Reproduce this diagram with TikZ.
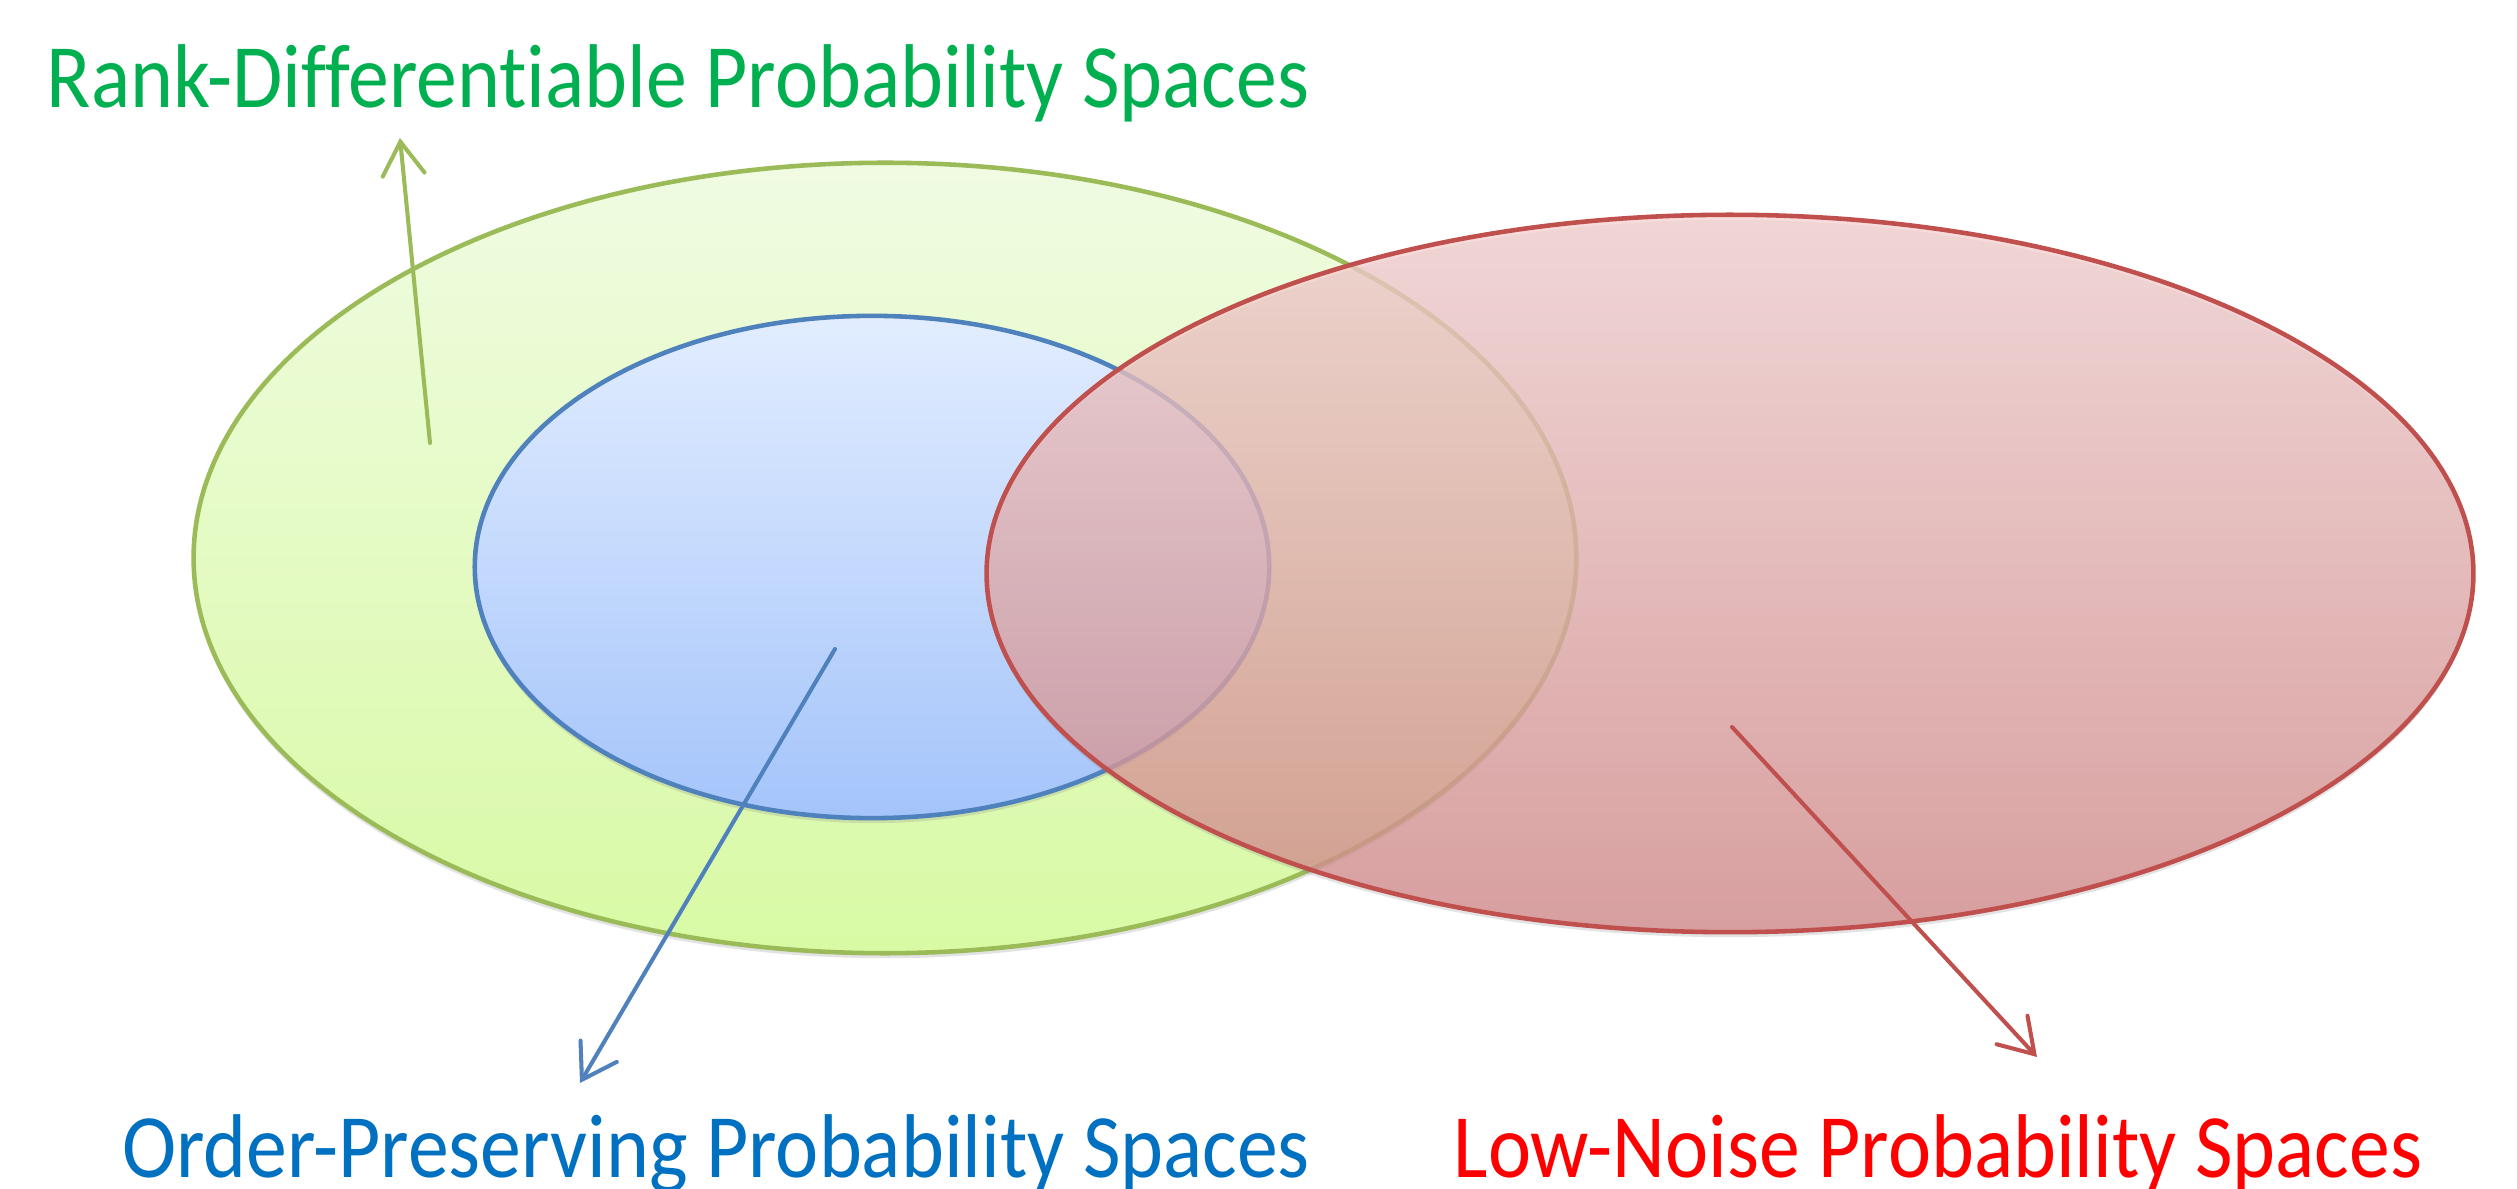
\documentclass[tikz,border=0pt]{standalone}
\usepackage{fontspec}
\setmainfont{Carlito}[Ligatures=NoCommon]
\usetikzlibrary{shapes.geometric,arrows.meta,shadows}
\definecolor{gline}{RGB}{155,187,89}
\definecolor{gtop}{RGB}{240,251,226}
\definecolor{gbot}{RGB}{216,250,164}
\definecolor{bline}{RGB}{79,129,189}
\definecolor{btop}{RGB}{226,237,255}
\definecolor{bbot}{RGB}{164,196,250}
\definecolor{rline}{RGB}{192,80,77}
\definecolor{rtop}{RGB}{246,210,210}
\definecolor{rbot}{RGB}{212,136,136}
\definecolor{gtext}{RGB}{0,176,80}
\definecolor{btext}{RGB}{0,112,192}
\definecolor{rtext}{RGB}{255,0,0}
\newcommand{\narrow}[1]{\scalebox{0.93}[1.03]{#1}}
\begin{document}
\begin{tikzpicture}[x=0.01cm,y=-0.01cm,
  setshape/.style={ellipse, inner sep=0pt, line width=1.3pt,
    drop shadow={shadow xshift=0pt, shadow yshift=-0.05cm, opacity=0.22}},
  lbl/.style={font=\fontsize{25}{30}\selectfont, inner sep=0pt, anchor=base},
  ptr/.style={line width=1.15pt, line cap=round, -{Straight Barb[length=0.33cm,width=0.42cm,line cap=round]}}]
\useasboundingbox (0,0) rectangle (2517,1189);
\fill[white] (0,0) rectangle (2517,1189);

\node[setshape, draw=gline, top color=gtop, bottom color=gbot,
  minimum width=13.82cm, minimum height=7.90cm] (G) at (885,558) {};
\node[setshape, draw=bline, top color=btop, bottom color=bbot,
  minimum width=7.94cm, minimum height=5.02cm] (B) at (872,567) {};
\node[setshape, draw=rline, top color=rtop, bottom color=rbot, fill opacity=0.75,
  minimum width=14.86cm, minimum height=7.17cm] (R) at (1730,573.5) {};

\node[lbl, text=gtext] (GT) at (678,108) {\narrow{Rank-Differentiable Probability Spaces}};
\node[lbl, text=btext] (BT) at (716,1178) {\narrow{Order-Preserving Probability Spaces}};
\node[lbl, text=rtext] (RT) at (1938,1178) {\narrow{Low-Noise Probability Spaces}};

\coordinate (gs) at (430,443);
\coordinate (ge) at (400,138);
\coordinate (bs) at (835,649);
\coordinate (be) at (580,1083);
\coordinate (rs) at (1732,727);
\coordinate (re) at (2037,1057);

\draw[ptr, draw=gline] (gs) -- (ge);
\draw[ptr, draw=bline] (bs) -- (be);
\draw[ptr, draw=rline] (rs) -- (re);
\end{tikzpicture}
\end{document}
